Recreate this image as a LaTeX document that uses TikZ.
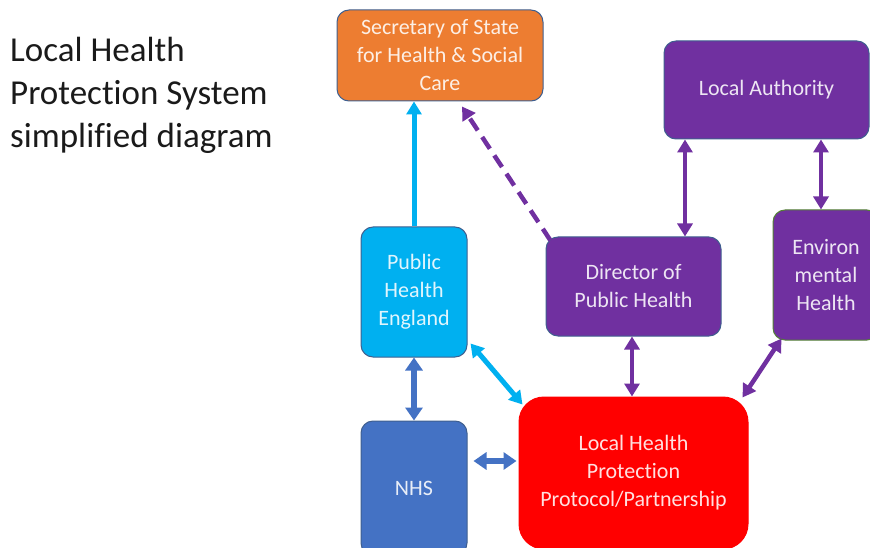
\documentclass[tikz,border=0pt]{standalone}
\usepackage{fontspec}
\setmainfont{Carlito}[Ligatures=NoCommon]
\usetikzlibrary{arrows.meta,calc}
\definecolor{cOrange}{HTML}{ED7D31}
\definecolor{cPurple}{HTML}{7030A0}
\definecolor{cCyan}{HTML}{00B0F0}
\definecolor{cBlue}{HTML}{4472C4}
\definecolor{cRed}{HTML}{FF0000}
\definecolor{cBorder}{HTML}{3F5F8F}
\definecolor{cGreen}{HTML}{548235}
\definecolor{cTitle}{HTML}{1A1A1A}
\begin{document}
\begin{tikzpicture}[x=1pt,y=-1pt,
  box/.style={rectangle, rounded corners=12pt, draw=cBorder, line width=1pt,
    text=white, text opacity=0.88, align=center,
    font=\fontsize{22}{28}\selectfont, inner sep=0pt},
  arr/.style={line width=4.5pt, -{Triangle[width=15pt,length=13pt]}},
  darr/.style={line width=4.5pt, {Triangle[width=15pt,length=13pt]}-{Triangle[width=15pt,length=13pt]}},
  barr/.style={line width=6pt, {Triangle[width=17pt,length=13pt]}-{Triangle[width=17pt,length=13pt]}}]
\useasboundingbox (0,0) rectangle (870,548);
\clip (0,0) rectangle (870,548);

\node[anchor=north west, inner sep=0pt, align=left, text=cTitle,
  font=\fontsize{35}{43}\selectfont] (title) at (10,37)
  {Local Health\\Protection System\\simplified diagram};

\node[box, fill=cOrange, minimum width=206pt, minimum height=91pt] (sec) at (440,55.5)
  {Secretary of State\\for Health \& Social\\Care};
\node[box, fill=cPurple, minimum width=205pt, minimum height=98pt] (la) at (766.5,90)
  {Local Authority};
\node[box, fill=cPurple, draw=cGreen, minimum width=106pt, minimum height=130pt] (env) at (826,275)
  {Environ\\mental\\Health};
\node[box, fill=cPurple, minimum width=175pt, minimum height=99pt] (dph) at (633.5,286.5)
  {Director of\\Public Health};
\node[box, fill=cCyan, minimum width=106pt, minimum height=130pt] (phe) at (414,292)
  {Public\\Health\\England};
\node[box, fill=cBlue, minimum width=106pt, minimum height=134pt] (nhs) at (414,488)
  {NHS};
\node[box, fill=cRed, draw=cRed, rounded corners=25pt, minimum width=229pt, minimum height=152pt] (lhp) at (633.5,473)
  {Local Health\\Protection\\Protocol/Partnership};

\coordinate (xa) at (685,0);
\coordinate (xb) at (821,0);
\coordinate (xc) at (632,0);
\coordinate (ya) at (0,461);
\coordinate (n1) at (nhs.east |- ya);
\coordinate (n2) at (lhp.west |- ya);

\draw[arr, cCyan, line width=5pt] (phe.north) -- (phe.north |- sec.south);
\draw[arr, cPurple, dash pattern=on 14pt off 8pt] ($(dph.north west)+(5,4)$) -- ($(sec.south)+(22,5)$);
\draw[darr, cPurple] (la.south -| xa) -- (dph.north -| xa);
\draw[darr, cPurple] (la.south -| xb) -- (env.north -| xb);
\draw[darr, cPurple] (dph.south -| xc) -- (lhp.north -| xc);
\draw[darr, cPurple] ($(env.south west)+(9,-2)$) -- ($(lhp.north east)+(-6,1)$);
\draw[darr, cCyan, line width=5pt] ($(phe.south east)+(3,-14)$) -- ($(lhp.north west)+(4,8)$);
\draw[barr, cBlue] (phe.south) -- (nhs.north);
\draw[barr, cBlue] ($(n1)+(6,0)$) -- ($(n2)+(-2,0)$);
\end{tikzpicture}
\end{document}
